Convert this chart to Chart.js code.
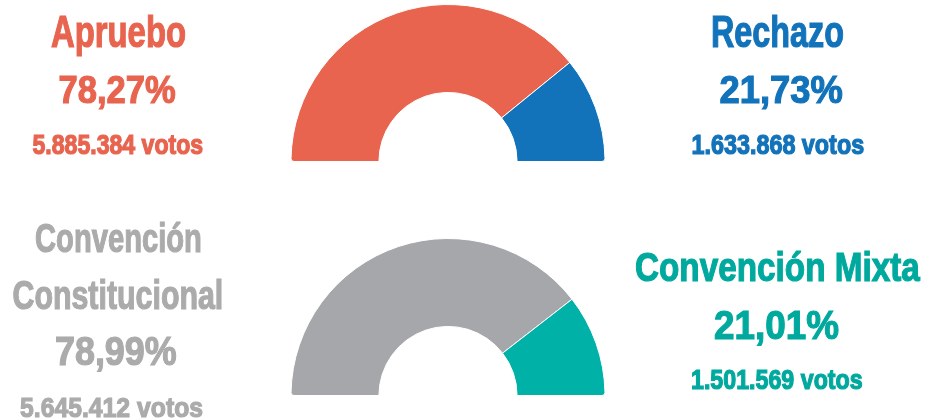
<!DOCTYPE html>
<html>
<head>
<meta charset="utf-8">
<script src="https://cdn.jsdelivr.net/npm/chart.js@4"></script>
<style>
  html, body { margin: 0; padding: 0; background: #fff; }
  #wrap { position: relative; width: 930px; height: 420px; overflow: hidden; }
  canvas { position: absolute; }
  .t {
    position: absolute;
    width: 400px;
    margin-left: -200px;
    text-align: center;
    white-space: nowrap;
    font-family: 'Liberation Sans', Arial, sans-serif;
    font-weight: bold;
    -webkit-text-stroke: 1.2px currentColor;
  }
  .t span { display: inline-block; transform-origin: 50% 50%; }
</style>
</head>
<body>
<div id="wrap">
  <canvas id="chart-top" width="316" height="158" style="left:290px; top:4px;"></canvas>
  <canvas id="chart-bottom" width="316" height="158" style="left:290px; top:238px;"></canvas>
</div>
<script>
// Plebiscito: ¿Quiere una nueva Constitución?
const topLabels = ['Apruebo', 'Rechazo'];
const topPercent = [78.27, 21.73];
const topVotes = [5885384, 1633868];

// ¿Qué tipo de órgano debiera redactar la nueva Constitución?
const bottomLabels = ['Convención Constitucional', 'Convención Mixta'];
const bottomPercent = [78.99, 21.01];
const bottomVotes = [5645412, 1501569];

const topColors = ['#E8644F', '#1273BA'];
const bottomColors = ['#A6A7AA', '#00B1A7'];
const bottomTextColors = ['#ABABAB', '#00A99E'];

const wrap = document.getElementById('wrap');

// Helpers
function formatPercent(v) {
    return v.toFixed(2).replace('.', ',') + '%';
}

function formatVotes(n) {
    return n.toString().replace(/\B(?=(\d{3})+(?!\d))/g, '.') + ' votos';
}

// text squeezed horizontally to look like a condensed face
function addText(text, x, top, size, width, color) {
    const div = document.createElement('div');
    div.className = 't';
    div.style.left = x + 'px';
    div.style.top = top + 'px';
    div.style.fontSize = size + 'px';
    div.style.lineHeight = size + 'px';
    div.style.color = color;
    const span = document.createElement('span');
    span.textContent = text;
    div.appendChild(span);
    wrap.appendChild(div);
    const scale = width / span.offsetWidth;
    span.style.transform = 'scaleX(' + scale.toFixed(3) + ')';
}

// Half doughnut
function makeGauge(id, labels, values, colors) {
    const ctx = document.getElementById(id).getContext('2d');
    return new Chart(ctx, {
        type: 'doughnut',
        data: {
            labels: labels,
            datasets: [{
                data: values,
                backgroundColor: colors,
                borderColor: '#ffffff',
                borderWidth: 1,
                borderRadius: [
                    { outerStart: 3, outerEnd: 0, innerStart: 0, innerEnd: 0 },
                    { outerStart: 0, outerEnd: 3, innerStart: 0, innerEnd: 0 }
                ]
            }]
        },
        options: {
            responsive: false,
            animation: false,
            rotation: -90,
            circumference: 180,
            cutout: '44%',
            layout: { padding: 0 },
            plugins: {
                legend: { display: false },
                tooltip: { enabled: false }
            }
        }
    });
}

makeGauge('chart-top', topLabels, topPercent, topColors);
makeGauge('chart-bottom', bottomLabels, bottomPercent, bottomColors);

// Top labels
addText(topLabels[0], 118, 9, 45, 135, topColors[0]);
addText(formatPercent(topPercent[0]), 117, 70, 39, 117, topColors[0]);
addText(formatVotes(topVotes[0]), 118, 132, 27, 171, topColors[0]);

addText(topLabels[1], 778, 9, 45, 133, topColors[1]);
addText(formatPercent(topPercent[1]), 781, 70, 39, 123, topColors[1]);
addText(formatVotes(topVotes[1]), 778, 132, 27, 173, topColors[1]);

// Bottom labels
const constParts = bottomLabels[0].split(' ');
addText(constParts[0], 118, 218, 40, 167, bottomTextColors[0]);
addText(constParts[1], 118, 275, 40, 211, bottomTextColors[0]);
addText(formatPercent(bottomPercent[0]), 116, 331, 40, 122, bottomTextColors[0]);
addText(formatVotes(bottomVotes[0]), 112, 394, 28, 183, bottomTextColors[0]);

addText(bottomLabels[1], 777, 247, 41, 285, bottomTextColors[1]);
addText(formatPercent(bottomPercent[1]), 777, 305, 41, 125, bottomTextColors[1]);
addText(formatVotes(bottomVotes[1]), 777, 367, 27, 172, bottomTextColors[1]);
</script>
</body>
</html>
